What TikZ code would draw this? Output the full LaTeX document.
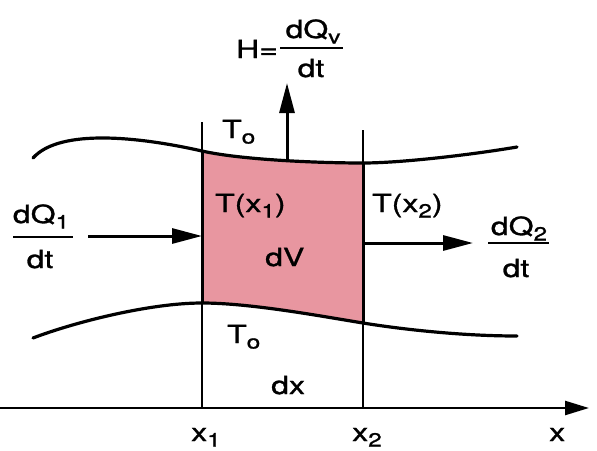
\documentclass[tikz,border=0pt]{standalone}
\usepackage{fontspec}
\setmainfont{TeX Gyre Heros}[FakeStretch=1.28,FakeBold=1.2]
\usetikzlibrary{arrows.meta}
\definecolor{slab}{RGB}{232,150,160}
\newcommand{\lo}[1]{\raisebox{-5.5pt}{\fontsize{19}{19}\selectfont #1}}
\begin{document}
\begin{tikzpicture}[x=1pt,y=-1pt,
  lbl/.style={inner sep=0pt, font=\fontsize{25}{29}\selectfont, anchor=base west},
  frac/.style={inner sep=0pt, font=\fontsize{25}{29}\selectfont, anchor=base},
  vline/.style={line width=1.4pt},
  side/.style={line width=3pt},
  curve/.style={line width=3.2pt, line cap=round},
  bar/.style={line width=1.6pt},
  flow/.style={line width=3pt, -{Triangle[length=30pt,width=15pt]}},
  axis/.style={line width=2.4pt, -{Triangle[length=24pt,width=14pt]}}]
\useasboundingbox (0,0) rectangle (597,450);
% curve key points
\coordinate (u0) at (33,158);
\coordinate (u1) at (202,151);
\coordinate (u2) at (363,163);
\coordinate (u3) at (517,147);
\coordinate (l0) at (33,338);
\coordinate (l1) at (202,303);
\coordinate (l2) at (363,323);
\coordinate (l3) at (517,336);
% filled slab
\fill[slab] (u1) .. controls (242,160) and (320,163) .. (u2) -- (l2)
  .. controls (320,316) and (250,303) .. (l1) -- cycle;
% thin vertical lines
\coordinate (x1top) at (202,122);
\coordinate (x1bot) at (202,408);
\coordinate (x2top) at (363,130);
\coordinate (x2bot) at (363,408);
\draw[vline] (x1top) -- (x1bot);
\draw[vline] (x2top) -- (x2bot);
\draw[side] (u1) -- (l1);
\draw[side] (u2) -- (l2);
% curves
\draw[curve] (u0) .. controls (60,128) and (140,137) .. (u1)
  .. controls (242,160) and (320,163) .. (u2)
  .. controls (400,163) and (470,155) .. (u3);
\draw[curve] (l0) .. controls (75,322) and (150,303) .. (l1)
  .. controls (250,303) and (320,316) .. (l2)
  .. controls (400,329) and (460,336) .. (l3);
% axis
\coordinate (ax0) at (0,408);
\coordinate (ax1) at (589,408);
\draw[axis] (ax0) -- (ax1);
% flow arrows
\coordinate (inS) at (88,236);
\coordinate (inE) at (202,236);
\draw[flow] (inS) -- (inE);
\coordinate (outS) at (363,243);
\coordinate (outE) at (473,243);
\draw[flow] (outS) -- (outE);
\coordinate (upS) at (287,160);
\coordinate (upE) at (287,83);
\draw[flow] (upS) -- (upE);
% left fraction
\node[frac] (q1n) at (41,223) {dQ\lo{1}};
\coordinate (b1a) at (13,237);
\coordinate (b1b) at (73,237);
\draw[bar] (b1a) -- (b1b);
\node[frac] (q1d) at (40,268) {dt};
% top fraction
\node[lbl] (hl) at (236,58) {H=};
\node[frac] (qvn) at (313,38) {dQ\lo{v}};
\coordinate (bva) at (280,48);
\coordinate (bvb) at (343,48);
\draw[bar] (bva) -- (bvb);
\node[frac] (qvd) at (311,77) {dt};
% right fraction
\node[frac] (q2n) at (519,235) {dQ\lo{2}};
\coordinate (b2a) at (488,243);
\coordinate (b2b) at (549,243);
\draw[bar] (b2a) -- (b2b);
\node[frac] (q2d) at (516,277) {dt};
% labels
\node[lbl] (tou) at (222,138) {T\lo{o}};
\node[lbl] (tx1) at (215,212) {T(x\lo{1})};
\node[lbl] (dv) at (265,266) {dV};
\node[lbl] (tx2) at (372,212) {T(x\lo{2})};
\node[lbl] (tol) at (227,343) {T\lo{o}};
\node[lbl] (dx) at (271,394) {dx};
\node[lbl] (lx1) at (191,441) {x\lo{1}};
\node[lbl] (lx2) at (352,441) {x\lo{2}};
\node[lbl] (lx) at (549,441) {x};
\end{tikzpicture}
\end{document}
